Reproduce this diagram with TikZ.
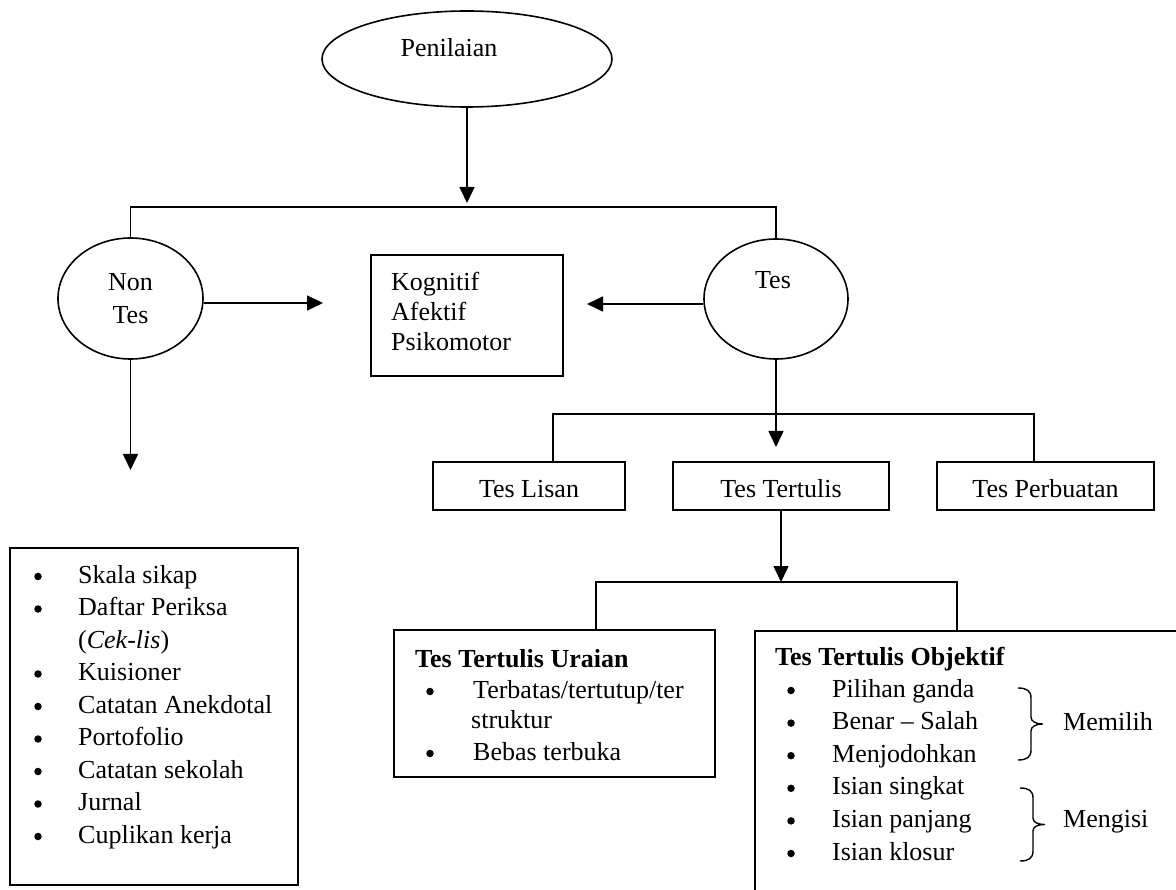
\documentclass[tikz,border=0pt]{standalone}
\usepackage{fontspec}
\setmainfont{Liberation Serif}
\usetikzlibrary{arrows.meta,shapes.geometric}
\begin{document}
\begin{tikzpicture}[x=1pt,y=-1pt,
  every node/.style={font=\fontsize{26}{33}\selectfont, inner sep=0pt},
  line/.style={line width=1.6pt},
  arr/.style={line width=1.6pt,-{Triangle[length=16pt,width=15pt]}},
  oval/.style={draw,line width=1.6pt,ellipse},
  box/.style={draw,line width=1.6pt,rectangle},
  tbox/.style={box,minimum height=48pt,text height=22pt,text depth=0pt},
  lbl/.style={anchor=base west},
  dot/.style={circle,fill,minimum size=7.5pt,inner sep=0pt,yshift=6.5pt},
  bracepath/.style={line width=1.4pt}]
\useasboundingbox (0,0) rectangle (1176,890);
\clip (0,0) rectangle (1176,890);

% ellipses
\node[oval, minimum width=290pt, minimum height=96pt] (pen) at (467,59) {};
\node[anchor=base] (pent) at (449,57) {Penilaian};
\node[oval, minimum width=145pt, minimum height=121pt, align=center] (nontes) at (130.5,298.5) {Non\\Tes};
\node[oval, minimum width=144pt, minimum height=120pt] (tes) at (776,299) {};
\node[anchor=base] (test) at (773,289) {Tes};

% domain box
\node[box, minimum width=192pt, minimum height=121pt] (kog) at (467,315.5) {};
\node[lbl] (k1) at (391,291) {Kognitif};
\node[lbl] (k2) at (391,321) {Afektif};
\node[lbl] (k3) at (391,351) {Psikomotor};

% test type boxes
\node[tbox, minimum width=192pt] (lisan) at (529,486) {Tes Lisan};
\node[tbox, minimum width=216pt] (tulis) at (781,486) {Tes Tertulis};
\node[tbox, minimum width=217pt] (perb) at (1045.5,486) {Tes Perbuatan};

% bottom boxes
\node[box, minimum width=321pt, minimum height=147pt] (ura) at (554.5,703.5) {};
\node[box, anchor=north west, minimum width=440pt, minimum height=290pt] (obj) at (754,630) {};
\node[box, minimum width=288pt, minimum height=337pt] (list) at (154,716.5) {};

% connectors
\coordinate (t1) at (467,203);
\draw[arr] (pen.south) -- (t1);
\coordinate (bar1) at (467,207);
\draw[line] (nontes.north) |- (bar1) -| (tes.north);
\coordinate (a1) at (323,303);
\draw[arr] (nontes.east |- a1) -- (a1);
\coordinate (a2) at (587,304);
\draw[arr] (tes.west |- a2) -- (a2);
\coordinate (a3) at (130.5,470);
\draw[arr] (nontes.south) -- (a3);
\coordinate (a4) at (776,447);
\draw[arr] (tes.south) -- (a4);
\coordinate (b2l) at (553,414);
\coordinate (b2r) at (1034,414);
\draw[line] (lisan.north -| b2l) |- (b2r) -- (perb.north -| b2r);
\coordinate (a5) at (781,582);
\draw[arr] (tulis.south) -- (a5);
\coordinate (b3l) at (596,582);
\coordinate (b3r) at (957,582);
\draw[line] (ura.north -| b3l) |- (b3r) -- (obj.north -| b3r);

% left list
\node[dot] (lb1) at (38,583) {};   \node[lbl] (lt1) at (78,583) {Skala sikap};
\node[dot] (lb2) at (38,615.5) {}; \node[lbl] (lt2) at (78,615.5) {Daftar Periksa};
                                   \node[lbl] (lt3) at (78,648) {(\textit{Cek-lis})};
\node[dot] (lb4) at (38,680.5) {}; \node[lbl] (lt4) at (78,680.5) {Kuisioner};
\node[dot] (lb5) at (38,713) {};   \node[lbl] (lt5) at (78,713) {Catatan Anekdotal};
\node[dot] (lb6) at (38,745.5) {}; \node[lbl] (lt6) at (78,745.5) {Portofolio};
\node[dot] (lb7) at (38,778) {};   \node[lbl] (lt7) at (78,778) {Catatan sekolah};
\node[dot] (lb8) at (38,810.5) {}; \node[lbl] (lt8) at (78,810.5) {Jurnal};
\node[dot] (lb9) at (38,843) {};   \node[lbl] (lt9) at (78,843) {Cuplikan kerja};

% uraian
\node[lbl] (ut0) at (415,667) {\bfseries Tes Tertulis Uraian};
\node[dot] (ub1) at (430,698) {}; \node[lbl] (ut1) at (473,698) {Terbatas/tertutup/ter};
                                  \node[lbl] (ut2) at (471,728) {struktur};
\node[dot] (ub3) at (430,760) {}; \node[lbl] (ut3) at (473,760) {Bebas terbuka};

% objektif
\node[lbl] (ot0) at (775,665) {\bfseries Tes Tertulis Objektif};
\node[dot] (ob1) at (791,697) {};   \node[lbl] (ot1) at (832,697) {Pilihan ganda};
\node[dot] (ob2) at (791,729.6) {}; \node[lbl] (ot2) at (832,729.6) {Benar – Salah};
\node[dot] (ob3) at (791,762.2) {}; \node[lbl] (ot3) at (832,762.2) {Menjodohkan};
\node[dot] (ob4) at (791,794.8) {}; \node[lbl] (ot4) at (832,794.8) {Isian singkat};
\node[dot] (ob5) at (791,827.4) {}; \node[lbl] (ot5) at (832,827.4) {Isian panjang};
\node[dot] (ob6) at (791,860) {};   \node[lbl] (ot6) at (832,860) {Isian klosur};

% braces
\draw[bracepath] (1018,688) .. controls (1027,688) and (1031,691) .. (1031,698) -- (1031,717) .. controls (1031,721) and (1035,724) .. (1043,724) .. controls (1035,724) and (1031,727) .. (1031,731) -- (1031,750) .. controls (1031,757) and (1027,760) .. (1018,760);
\draw[bracepath] (1020,788) .. controls (1029,788) and (1033,791) .. (1033,798) -- (1033,818) .. controls (1033,822) and (1037,824.5) .. (1045,824.5) .. controls (1037,824.5) and (1033,827) .. (1033,831) -- (1033,851) .. controls (1033,858) and (1029,861) .. (1020,861);
\node[lbl] (mem) at (1063,730) {Memilih};
\node[lbl] (men) at (1063,827) {Mengisi};
\end{tikzpicture}
\end{document}
